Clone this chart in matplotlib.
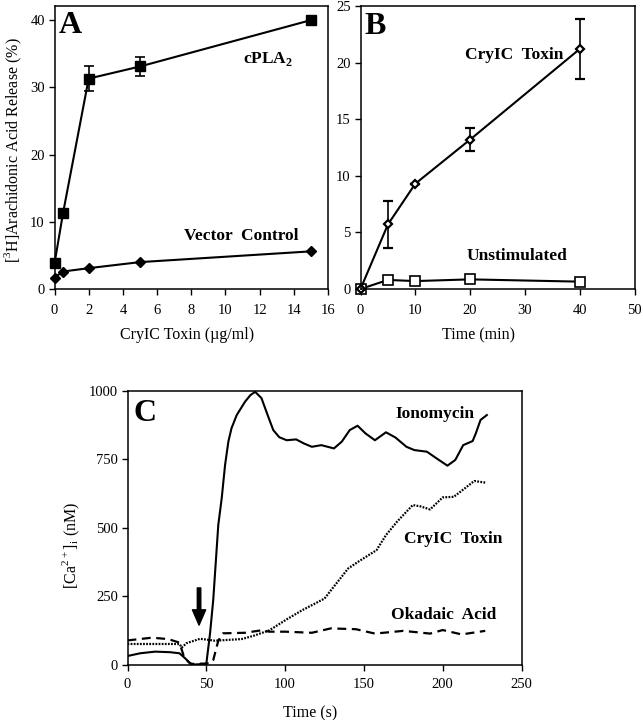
import matplotlib
matplotlib.use('Agg')
import matplotlib.pyplot as plt

plt.rcParams['font.family'] = ['Liberation Serif', 'DejaVu Serif']
plt.rcParams['mathtext.fontset'] = 'custom'
plt.rcParams['mathtext.rm'] = 'Liberation Serif'
plt.rcParams['mathtext.bf'] = 'Liberation Serif:bold'

# panel A
dose = [0, 0.5, 2, 5, 15]
cpla2 = [3.8, 11.3, 31.3, 33.1, 40]
cpla2_err = [0, 0, 1.9, 1.45, 0]
vector = [1.7, 2.6, 3.1, 4.0, 5.6]

# panel B
time_min = [0, 5, 10, 20, 40]
toxin_b = [0, 5.7, 9.3, 13.2, 21.2]
toxin_b_err = [0, 2.1, 0, 1.0, 2.65]
unstim = [0, 0.8, 0.7, 0.85, 0.65]

# panel C
iono_t = [0, 8, 17.5, 27, 33, 36.5, 39.7, 42, 50, 52.4, 54.4, 57.6, 59.8, 61.9, 64, 66, 69.3, 74.6, 78, 81, 85, 89.3,
          92.5, 96.3, 101, 107, 112, 117, 123, 131, 136, 141, 146, 151, 157, 164, 170, 177, 182, 190, 196, 203,
          208, 213, 219, 221, 224, 228]
iono = [31, 41, 47, 45, 41, 23, 5, 0, 2, 115, 236, 510, 609, 729, 815, 864, 912, 961, 985, 997, 974, 906,
        857, 831, 820, 823, 808, 796, 802, 790, 815, 857, 873, 845, 820, 849, 830, 796, 784, 778, 754, 727,
        748, 802, 817, 845, 894, 912]
cry_t = [0, 33, 34.4, 37.5, 46, 55.5, 72.4, 80, 90, 101, 111, 125, 130, 140, 147, 158, 164, 171, 181, 186, 192, 200,
         207, 214, 220, 227]
cry = [75, 75, 62, 78, 94, 87, 93, 105, 125, 165, 199, 241, 278, 351, 378, 418, 473, 522, 583, 578, 567, 611,
       613, 644, 671, 665]
oka_t = [0, 15.4, 25.8, 33, 36, 40, 52.4, 54.4, 57.6, 60.6, 74.6, 85, 90, 100, 117, 129, 145, 157, 175, 192, 200, 212, 227]
oka = [88, 98, 93, 80, 25, 2, 4, 16, 87, 114, 116, 125, 120, 120, 116, 132, 129, 113, 123, 113, 126, 110, 123]

W, H = 643, 720


def make_axes(left, right, top, bottom, xpad=6):
    ax = fig.add_axes([left / W, 1 - bottom / H, (right - left) / W, (bottom - top) / H])
    for s in ax.spines.values():
        s.set_linewidth(1.1)
    ax.tick_params(direction='out', length=4.5, width=1, labelsize=10.5)
    ax.tick_params(axis='y', pad=2.5)
    ax.tick_params(axis='x', pad=xpad)
    return ax


def bold(ax, x, y, s, size=12.5):
    ax.text(x, y, s, fontweight='bold', fontsize=size, ha='left', va='center')


fig = plt.figure(figsize=(W / 100, H / 100), dpi=100)

# A
ax = make_axes(54.5, 328, 6, 289)
ax.errorbar(dose, cpla2, yerr=cpla2_err, color='k', lw=1.5, marker='s', ms=7.5, capsize=3.5,
            elinewidth=1.2, capthick=1.2, clip_on=False)
ax.plot(dose, vector, color='k', lw=1.5, marker='D', ms=5.5, clip_on=False)
ax.set_xlim(0, 16)
ax.set_ylim(0, 42.1)
ax.set_xticks(range(0, 17, 2))
ax.set_yticks(range(0, 41, 10))
ax.set_xlabel('CryIC Toxin (µg/ml)', fontsize=11.5)
ax.set_ylabel('[$^{3}$H]Arachidonic Acid Release (%)', fontsize=11.5)
ax.xaxis.set_label_coords(0.484, -0.135)
ax.yaxis.set_label_coords(-0.11, 0.49)
bold(ax, 0.25, 39.2, 'A', 23)
bold(ax, 11, 34.2, 'cPLA$_{\\mathbf{2}}$')
bold(ax, 7.55, 7.9, 'Vector  Control')

# B
ax = make_axes(360.5, 634.5, 6, 289)
ax.errorbar(time_min, toxin_b, yerr=toxin_b_err, color='k', lw=1.5, marker='D', ms=4.5, mfc='w', mew=1.6,
            capsize=3.5, elinewidth=1.2, capthick=1.2, clip_on=False)
ax.plot(time_min, unstim, color='k', lw=1.5, marker='s', ms=7, mfc='w', mew=1.2, clip_on=False)
ax.set_xlim(0, 50)
ax.set_ylim(0, 25)
ax.set_xticks(range(0, 51, 10))
ax.set_yticks(range(0, 26, 5))
ax.set_xlabel('Time (min)', fontsize=11.5)
ax.xaxis.set_label_coords(0.432, -0.135)
bold(ax, 19.1, 20.7, 'CryIC  Toxin')
bold(ax, 19.3, 2.95, 'Unstimulated')
bold(ax, 0.8, 23.2, 'B', 23)

# C
ax = make_axes(127.5, 521.5, 391, 664.5, xpad=5)
ax.plot(iono_t, iono, color='k', lw=1.5)
ax.plot(cry_t, cry, color='k', lw=1.6, ls=(0, (0.8, 0.6)))
ax.plot(oka_t, oka, color='k', lw=1.6, ls=(0, (4, 2.5)))
ax.annotate('', xy=(45.4, 144), xytext=(45.4, 280),
            arrowprops=dict(facecolor='k', edgecolor='k', width=2.5, headwidth=9.5, headlength=11, shrink=0))
ax.set_xlim(0, 250)
ax.set_ylim(0, 1000)
ax.set_xticks(range(0, 251, 50))
ax.set_yticks(range(0, 1001, 250))
ax.set_xlabel('Time (s)', fontsize=11.5)
ax.set_ylabel('[Ca$^{2+}$]$_{\\mathrm{i}}$ (nM)', fontsize=11.5)
ax.xaxis.set_label_coords(0.463, -0.15)
ax.yaxis.set_label_coords(-0.115, 0.437)
bold(ax, 3.5, 918, 'C', 23)
bold(ax, 170, 915, 'Ionomycin')
bold(ax, 175.5, 458, 'CryIC  Toxin')
bold(ax, 167.5, 182, 'Okadaic  Acid')

fig.savefig('out.png', dpi=100)
